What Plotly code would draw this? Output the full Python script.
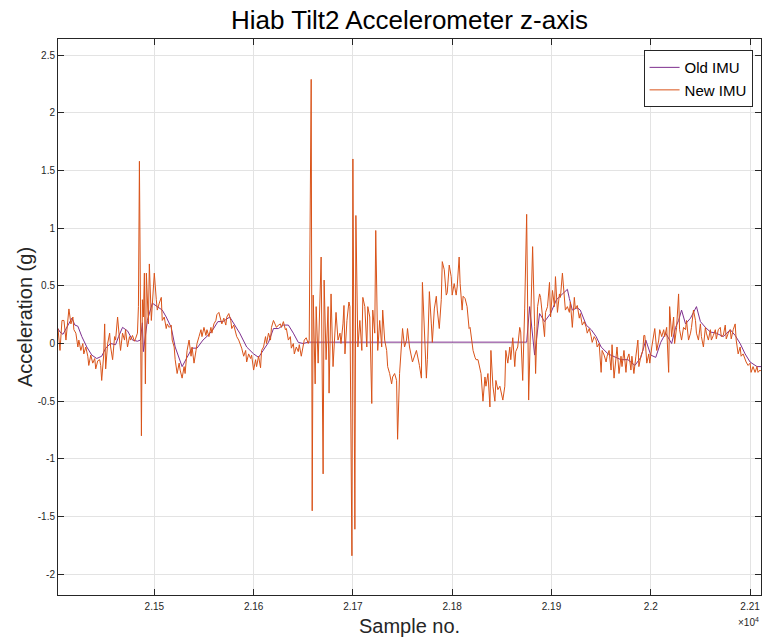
import plotly.graph_objects as go

# ---------------- data ----------------
new_x = [21403,21405,21407,21409,21411,21413,21414,21416,21418,21419,21421,21423,21424,21426,21428,21429,21431,21433,21434,21436,
         21438,21440,21441,21443,21445,21446,21447,21449,21450,21451,21453,21455,21456,21458,21460,21461,21463,21465,21466,21468,
         21470,21471,21473,21475,21476,21478,21480,21481,21483,21484,21485,21487,21488,21489,21490,21491,21492,21494,21495,21497,
         21498,21500,21502,21503,21505,21507,21508,21510,21512,21513,21515,21517,21518,21520,21521,21523,21525,21526,21528,21530,
         21531,21533,21535,21537,21538,21540,21542,21543,21545,21547,21548,21550,21552,21553,21555,21557,21558,21560,21562,21563,
         21565,21567,21568,21570,21572,21573,21575,21577,21578,21580,21582,21583,21585,21587,21588,21590,21592,21593,21595,21597,
         21598,21600,21602,21603,21605,21607,21608,21610,21612,21613,21615,21617,21618,21620,21622,21623,21625,21627,21628,21630,
         21632,21633,21635,21637,21638,21640,21641,21643,21645,21646,21648,21650,21651,21653,21655,21656,21658,21659,21660,21662,
         21663,21665,21666,21668,21670,21671,21673,21675,21676,21678,21680,21682,21683,21685,21687,21688,21690,21691,21692,21694,
         21696,21697,21699,21700,21702,21703,21705,21707,21709,21710,21712,21714,21715,21717,21719,21720,21722,21723,21725,21727,
         21729,21730,21732,21734,21735,21737,21739,21740,21742,21744,21745,21747,21749,21750,21752,21754,21755,21757,21760,21764,
         21767,21769,21770,21772,21774,21775,21777,21779,21780,21782,21784,21785,21787,21789,21790,21792,21794,21795,21797,21799,
         21800,21802,21804,21805,21807,21808,21810,21811,21813,21815,21817,21818,21820,21821,21823,21824,21826,21829,21831,21833,
         21834,21836,21838,21839,21841,21843,21844,21846,21848,21849,21851,21853,21854,21856,21858,21859,21861,21863,21864,21866,
         21868,21869,21871,21873,21875,21877,21881,21883,21884,21886,21888,21889,21891,21893,21894,21896,21898,21899,21901,21903,
         21904,21906,21908,21909,21911,21913,21914,21916,21918,21919,21921,21923,21924,21926,21928,21929,21931,21933,21935,21936,
         21938,21940,21941,21943,21945,21946,21948,21950,21951,21953,21955,21956,21958,21960,21961,21963,21965,21966,21968,21970,
         21971,21973,21975,21976,21978,21980,21981,21983,21985,21987,21988,21990,21992,21993,21994,21996,21998,21999,22001,22003,
         22004,22006,22008,22009,22011,22013,22014,22016,22018,22019,22021,22023,22024,22026,22028,22029,22031,22033,22035,22036,
         22038,22040,22041,22043,22045,22046,22048,22050,22051,22053,22055,22056,22058,22060,22061,22063,22065,22066,22068,22070,
         22071,22073,22075,22076,22078,22080,22081,22083,22085,22086,22088,22090,22091,22093,22095,22096,22098,22100,22101,22103,
         22105,22107,22108,22110,22111]
new_y = [0.13,-0.06,0.20,0.20,0.03,0.20,0.30,0.17,0.23,0.12,0.09,-0.03,0.03,-0.06,0.00,-0.09,-0.03,-0.11,-0.19,-0.10,
         -0.17,-0.13,-0.22,-0.15,-0.14,-0.19,-0.32,-0.10,0.17,-0.22,0.00,0.09,-0.03,-0.14,0.06,0.03,0.23,0.03,-0.06,0.09,
         0.03,0.12,-0.03,0.06,0.03,0.07,0.02,0.04,0.09,0.32,1.58,-0.80,0.38,0.23,0.61,-0.35,0.61,0.17,0.69,0.20,
         0.32,0.61,0.38,0.29,0.35,0.40,0.20,0.23,0.13,0.17,0.14,0.16,0.03,-0.03,-0.14,-0.26,-0.17,-0.23,-0.30,-0.20,
         -0.26,-0.06,0.03,-0.11,-0.03,-0.17,-0.06,0.00,0.06,0.12,0.06,0.14,0.07,0.12,0.06,0.14,0.09,0.17,0.20,0.25,
         0.27,0.20,0.17,0.22,0.16,0.23,0.26,0.20,0.13,0.16,0.10,0.06,0.03,-0.01,-0.04,-0.11,-0.06,-0.16,-0.09,-0.13,
         -0.10,-0.23,-0.14,-0.20,-0.11,-0.21,-0.06,-0.03,0.06,0.00,0.09,0.03,0.14,0.20,0.16,0.14,0.16,0.17,0.14,0.19,
         0.12,0.13,0.03,0.06,-0.04,0.00,-0.09,-0.03,-0.07,-0.01,-0.11,0.00,0.03,0.05,0.00,0.03,2.29,-1.45,0.42,-0.35,
         0.32,-0.17,0.14,0.75,-1.13,0.55,-0.14,0.32,-0.43,0.43,-0.20,0.12,0.27,0.03,0.09,0.00,0.17,0.33,-0.09,0.20,
         0.36,0.32,-1.84,1.60,-1.61,1.11,-0.03,0.20,-0.06,0.40,0.32,-0.03,0.32,0.23,-0.52,0.29,0.09,0.98,-0.06,0.20,
         -0.03,0.29,0.03,-0.06,-0.20,-0.26,-0.35,-0.29,-0.26,-0.32,-0.83,-0.26,0.03,0.13,-0.03,0.03,0.13,-0.03,-0.16,-0.06,
         -0.19,-0.30,0.53,0.03,-0.30,-0.14,0.45,0.17,0.01,0.30,0.41,0.29,0.13,0.38,0.71,0.64,0.42,0.44,0.68,0.58,
         0.42,0.52,0.42,0.49,0.75,0.52,0.29,0.41,0.39,0.32,0.13,0.14,0.03,-0.06,-0.12,-0.14,-0.14,-0.26,-0.50,-0.29,
         -0.37,-0.26,-0.55,-0.06,-0.37,-0.50,-0.32,-0.40,-0.37,-0.41,-0.49,-0.37,-0.06,-0.17,-0.03,-0.14,0.05,-0.20,-0.07,-0.03,
         0.14,0.10,-0.32,0.30,1.12,-0.49,0.84,0.15,-0.26,0.32,0.43,0.40,0.23,0.06,0.27,0.32,0.53,0.23,0.46,0.32,
         0.58,0.27,0.43,0.40,0.61,0.43,0.29,0.32,0.27,0.36,0.14,0.40,0.30,0.33,0.22,0.26,0.16,0.19,0.14,0.09,
         0.13,0.06,0.01,0.06,0.03,-0.03,0.00,-0.25,-0.06,-0.10,-0.16,-0.11,-0.06,-0.23,-0.01,-0.30,-0.11,-0.03,-0.26,-0.11,
         -0.20,-0.06,-0.25,-0.14,-0.09,-0.23,-0.11,-0.26,-0.11,0.03,-0.20,-0.11,-0.06,0.07,0.07,-0.17,-0.09,-0.17,-0.03,0.06,
         0.13,-0.06,0.03,0.12,0.06,0.12,0.06,0.14,-0.25,0.32,0.06,0.23,0.00,0.14,0.43,0.12,0.03,0.14,0.12,0.20,
         0.03,0.09,0.14,0.29,0.20,0.09,0.03,0.17,0.06,-0.03,0.14,0.09,0.03,0.12,0.03,0.07,0.12,0.04,0.12,0.14,
         0.06,0.07,0.16,0.04,0.09,0.12,0.04,0.12,0.17,0.03,-0.09,-0.03,-0.11,-0.09,-0.14,-0.16,-0.19,-0.17,-0.25,-0.20,
         -0.25,-0.20,-0.25,-0.23,-0.24]

old_x = [21403,21405,21408,21412,21417,21420,21423,21427,21432,21437,21442,21447,21451,21456,21461,21464,21468,21473,21478,21483,
         21486,21488,21489,21493,21498,21503,21508,21512,21517,21521,21528,21533,21538,21543,21549,21554,21559,21564,21569,21576,
         21579,21586,21593,21600,21605,21610,21615,21620,21625,21630,21635,21640,21645,21650,21655,21875,21878,21883,21888,21893,
         21896,21899,21905,21910,21916,21918,21921,21926,21929,21935,21940,21945,21950,21957,21964,21970,21977,21984,21990,21995,
         22000,22005,22010,22015,22021,22025,22028,22031,22035,22040,22046,22050,22055,22060,22066,22073,22080,22085,22090,22095,
         22100,22107,22111]
old_y = [0.13,0.10,0.08,0.14,0.22,0.16,0.15,0.06,-0.03,-0.10,-0.13,-0.11,-0.04,0.00,-0.01,0.06,0.14,0.11,0.03,0.02,
         0.03,0.18,-0.07,0.20,0.35,0.32,0.29,0.23,0.14,-0.03,-0.20,-0.12,-0.04,-0.04,0.03,0.07,0.12,0.19,0.19,0.23,
         0.19,0.09,-0.03,-0.09,-0.12,-0.06,0.01,0.13,0.13,0.16,0.16,0.09,0.01,0.00,0.012,0.012,0.32,-0.10,0.26,0.19,
         0.23,0.26,0.38,0.42,0.47,0.39,0.29,0.31,0.29,0.16,0.12,0.06,-0.03,-0.09,-0.12,-0.14,-0.14,-0.19,-0.12,0.03,
         -0.10,-0.12,0.01,0.09,0.00,0.14,0.20,0.29,0.17,0.22,0.32,0.19,0.14,0.10,0.09,0.06,0.12,0.07,0.00,-0.09,
         -0.16,-0.20,-0.20]

x_tick_vals = [21500, 21600, 21700, 21800, 21900, 22000, 22100]
x_tick_text = ["2.15", "2.16", "2.17", "2.18", "2.19", "2.2", "2.21"]
y_tick_vals = [-2, -1.5, -1, -0.5, 0, 0.5, 1, 1.5, 2, 2.5]
y_tick_text = ["-2", "-1.5", "-1", "-0.5", "0", "0.5", "1", "1.5", "2", "2.5"]

# ---------------- figure ----------------
FONT = "Liberation Sans, Arial, Helvetica, sans-serif"
AX = "#262626"
GRID = "#e3e3e3"

fig = go.Figure()
fig.add_trace(go.Scatter(x=old_x, y=old_y, mode="lines", name="Old IMU",
                         line=dict(color="#7E2F8E", width=1)))
fig.add_trace(go.Scatter(x=new_x, y=new_y, mode="lines", name="New IMU",
                         line=dict(color="#D95319", width=1)))

axis_common = dict(showline=True, linecolor=AX, linewidth=1, mirror="ticks",
                   ticks="inside", ticklen=6, tickcolor=AX, tickwidth=1,
                   showgrid=True, gridcolor=GRID, gridwidth=1, zeroline=False,
                   tickfont=dict(family=FONT, size=10, color=AX))

fig.update_xaxes(range=[21403, 22111], tickmode="array", tickvals=x_tick_vals,
                 ticktext=x_tick_text, ticklabelstandoff=2, **axis_common)
fig.update_yaxes(range=[-2.18, 2.64], tickmode="array", tickvals=y_tick_vals,
                 ticktext=y_tick_text, **axis_common)

fig.update_layout(
    width=762, height=642,
    margin=dict(l=58, r=1, t=39, b=47),
    paper_bgcolor="white", plot_bgcolor="white",
    font=dict(family=FONT, color=AX),
    title=dict(text="Hiab Tilt2 Accelerometer z-axis", x=0.5, xref="paper",
               y=1 - 19.5 / 642, yref="container", yanchor="middle", xanchor="center",
               font=dict(family=FONT, size=26, color="black")),
    legend=dict(x=0.988, y=0.98, xanchor="right", yanchor="top",
                bgcolor="white", bordercolor=AX, borderwidth=1, itemwidth=30,
                font=dict(family=FONT, size=15, color="black")),
    showlegend=True,
    annotations=[
        dict(text="Sample no.", x=0.5, y=(595 - 626) / 556, xref="paper", yref="paper",
             xanchor="center", yanchor="middle", showarrow=False,
             font=dict(family=FONT, size=20, color=AX)),
        dict(text="Acceleration (g)", x=(25 - 58) / 703, y=0.5, xref="paper", yref="paper",
             xanchor="center", yanchor="middle", textangle=-90, showarrow=False,
             font=dict(family=FONT, size=20, color=AX)),
        dict(text="×10<sup>4</sup>", x=1.0, y=(595 - 622) / 556, xref="paper", yref="paper",
             xanchor="right", yanchor="middle", showarrow=False,
             font=dict(family=FONT, size=10, color=AX)),
    ],
)

fig.write_html("out.html")
